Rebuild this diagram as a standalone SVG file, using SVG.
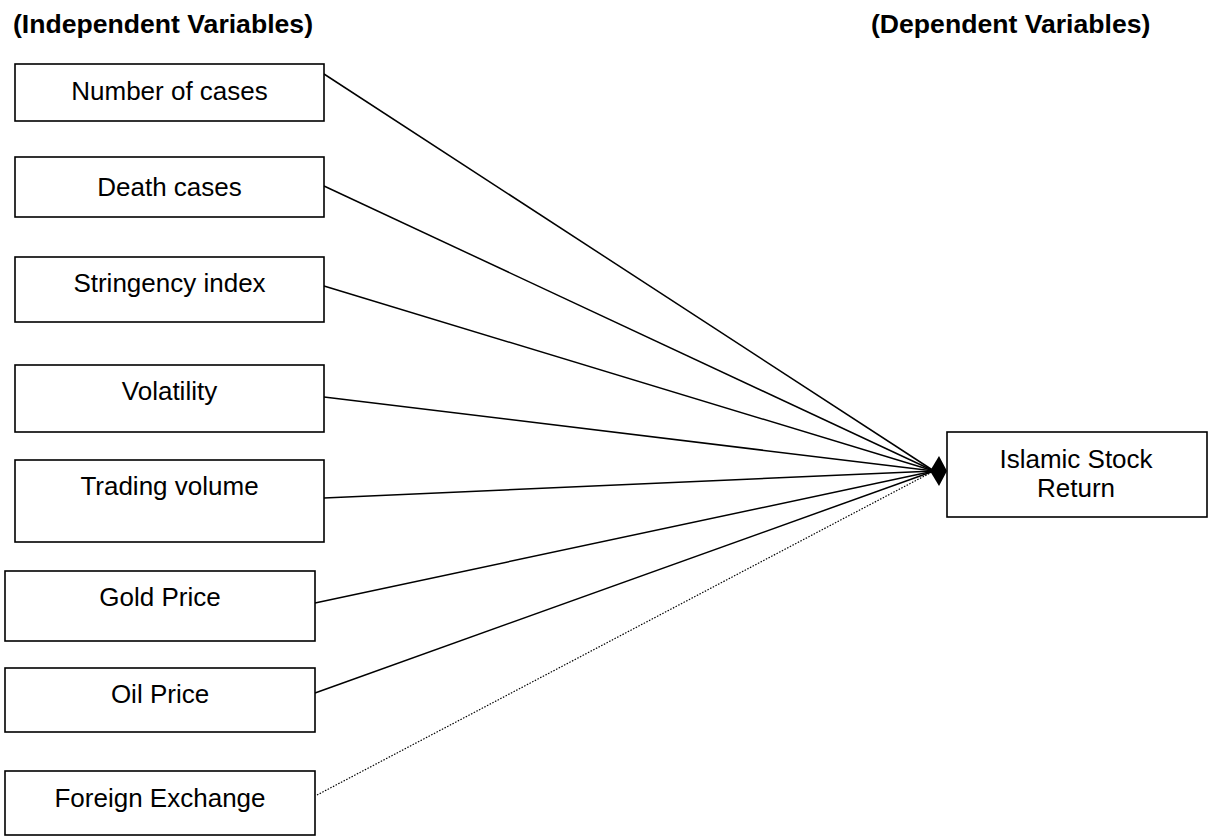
<svg xmlns="http://www.w3.org/2000/svg" width="1208" height="838" viewBox="0 0 1208 838">
<style>
.box{fill:#fff;stroke:#000;stroke-width:1.6}
.t{font-family:"Liberation Sans",Arial,sans-serif;font-size:26px;fill:#000;text-anchor:middle}
.h{font-family:"Liberation Sans",Arial,sans-serif;font-size:26.6px;font-weight:bold;fill:#000}
.c{stroke:#000;stroke-width:1.5;fill:none}
.d{stroke:#000;stroke-width:1.2;fill:none;stroke-dasharray:1.5 1.5}
</style>
<rect width="1208" height="838" fill="#fff"/>
<text class="h" x="13" y="33">(Independent Variables)</text>
<text class="h" x="871" y="33">(Dependent Variables)</text>
<g id="connectors">
<line class="c" x1="324" y1="74" x2="934" y2="471"/>
<line class="c" x1="324" y1="186" x2="934" y2="471"/>
<line class="c" x1="324" y1="286" x2="934" y2="471"/>
<line class="c" x1="324" y1="397" x2="934" y2="471"/>
<line class="c" x1="324" y1="498" x2="934" y2="471"/>
<line class="c" x1="315" y1="603" x2="934" y2="471"/>
<line class="c" x1="315" y1="693" x2="934" y2="471"/>
<line class="d" x1="317" y1="795" x2="934" y2="471"/>
<polygon points="930,471 939,456 947,471 939,486" fill="#000"/>
</g>
<g id="n1"><rect class="box" x="15" y="64" width="309" height="57"/><text class="t" x="169.5" y="100">Number of cases</text></g>
<g id="n2"><rect class="box" x="15" y="157" width="309" height="60"/><text class="t" x="169.5" y="196">Death cases</text></g>
<g id="n3"><rect class="box" x="15" y="257" width="309" height="65"/><text class="t" x="169.5" y="292">Stringency index</text></g>
<g id="n4"><rect class="box" x="15" y="365" width="309" height="67"/><text class="t" x="169.5" y="400">Volatility</text></g>
<g id="n5"><rect class="box" x="15" y="460" width="309" height="82"/><text class="t" x="169.5" y="495">Trading volume</text></g>
<g id="n6"><rect class="box" x="5" y="571" width="310" height="70"/><text class="t" x="160" y="606">Gold Price</text></g>
<g id="n7"><rect class="box" x="5" y="668" width="310" height="64"/><text class="t" x="160" y="703">Oil Price</text></g>
<g id="n8"><rect class="box" x="5" y="771" width="310" height="64"/><text class="t" x="160" y="807">Foreign Exchange</text></g>
<g id="n9"><rect class="box" x="947" y="432" width="260" height="85"/><text class="t" x="1076" y="468">Islamic Stock</text><text class="t" x="1076" y="497">Return</text></g>
</svg>
